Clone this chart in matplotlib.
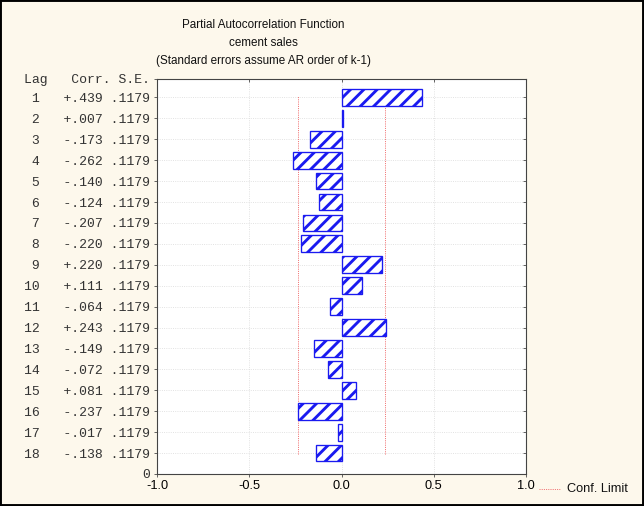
import numpy as np
import matplotlib
matplotlib.use("Agg")
import matplotlib.pyplot as plt
from matplotlib.lines import Line2D
from matplotlib.patches import Rectangle

# PACF values
lags = list(range(1, 19))
corr = [0.439, 0.007, -0.173, -0.262, -0.140, -0.124, -0.207, -0.220, 0.220,
        0.111, -0.064, 0.243, -0.149, -0.072, 0.081, -0.237, -0.017, -0.138]
se = [0.1179] * 18
xticks = [-1.0, -0.5, 0.0, 0.5, 1.0]
title_lines = ["Partial Autocorrelation Function", "cement sales",
               "(Standard errors assume AR order of k-1)"]
header = "Lag   Corr. S.E."

DPI = 80
W, H = 644, 506
bg = "#fdf8ec"
blue = "#1a1af0"
red = "#f07070"
mono = "Liberation Mono"
sans = "Liberation Sans"

plt.rcParams["hatch.linewidth"] = 2.6

fig = plt.figure(figsize=(W / DPI, H / DPI), dpi=DPI, facecolor=bg)
ax = fig.add_axes([157 / W, 1 - 474 / H, (526 - 157) / W, (474 - 79) / H])
ax.set_facecolor("white")

ypos = [19 - k for k in lags]
ytop = 18.88

ax.barh(ypos, corr, height=0.8, left=0, color="white", edgecolor=blue,
        hatch="//", linewidth=1.2, zorder=3)

# confidence limits (2 * S.E.)
lim = 2 * np.array(se)
ax.vlines([-lim[0], lim[0]], 0.95, 18.05, colors=red, linestyles=(0, (1, 1.2)),
          linewidth=0.9, zorder=2)

ax.set_xlim(-1, 1)
ax.set_ylim(0, ytop)

ylabels = []
for k, c, s in zip(lags, corr, se):
    cs = f"{c:+.3f}".replace("0.", ".", 1)
    ss = f"{s:.4f}".lstrip("0")
    ylabels.append(f"{k:>2}   {cs} {ss}")
ax.set_yticks([0] + ypos + [ytop])
ax.set_yticklabels(["0"] + ylabels + [header], fontfamily=mono, fontsize=11.8,
                   color="#333333")
ax.set_xticks(xticks)
ax.set_xticklabels([f"{v:.1f}" for v in xticks], fontfamily=sans, fontsize=11.5)

ax.tick_params(axis="y", left=True, right=True, direction="out", length=3,
               width=0.8, pad=3, color="#555555")
ax.tick_params(axis="x", bottom=True, top=True, direction="out", length=3,
               width=0.8, pad=2, color="#555555")
# right and top ticks point into the axes
for t in ax.yaxis.get_major_ticks():
    t.tick2line.set_marker(0)  # TICKLEFT
for t in ax.xaxis.get_major_ticks():
    t.tick2line.set_marker(3)  # TICKDOWN

ax.grid(True, color="#dddddd", linestyle=(0, (1, 1.5)), linewidth=0.8, zorder=0)
for sp in ax.spines.values():
    sp.set_color("#444444")
    sp.set_linewidth(1.0)

for i, line in enumerate(title_lines):
    fig.text(263 / W, 1 - (25 + 18 * i) / H, line, ha="center", va="center",
             fontfamily=sans, fontsize=10.5, color="#111111")

# legend for confidence limit
fig.add_artist(Line2D([539 / W, 560 / W], [1 - 489 / H] * 2, color=red,
                      linestyle=(0, (1, 1.2)), linewidth=0.9))
fig.text(567 / W, 1 - 489 / H, "Conf. Limit", ha="left", va="center",
         fontfamily=sans, fontsize=11.5, color="#111111")

fig.add_artist(Rectangle((0, 0), 1, 1, transform=fig.transFigure, fill=False,
                         edgecolor="black", linewidth=3.5))

fig.savefig("out.png", dpi=DPI, facecolor=bg)
